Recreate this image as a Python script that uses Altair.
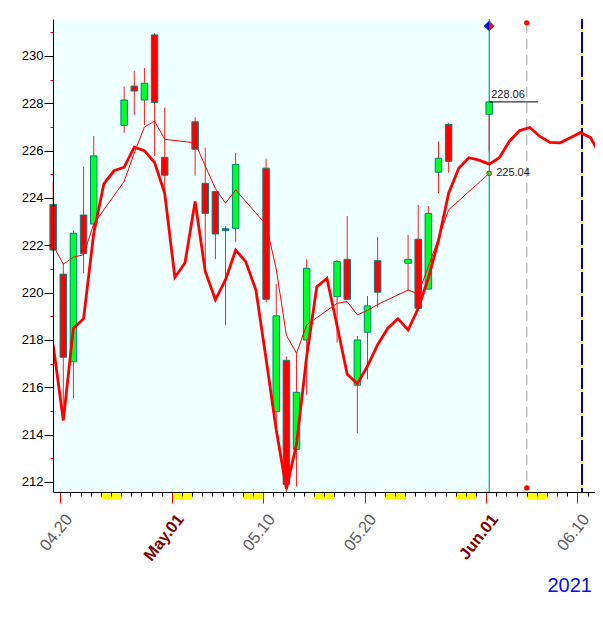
import altair as alt
import pandas as pd

# ---------------- data ----------------
dates = ["2021-04-19", "2021-04-20", "2021-04-21", "2021-04-22", "2021-04-23",
         "2021-04-26", "2021-04-27", "2021-04-28", "2021-04-29", "2021-04-30",
         "2021-05-03", "2021-05-04", "2021-05-05", "2021-05-06", "2021-05-07",
         "2021-05-10", "2021-05-11", "2021-05-12", "2021-05-13", "2021-05-14",
         "2021-05-17", "2021-05-18", "2021-05-19", "2021-05-20", "2021-05-21",
         "2021-05-24", "2021-05-25", "2021-05-26", "2021-05-27", "2021-05-28",
         "2021-06-01"]
opens = [223.73, 220.78, 217.08, 223.28, 222.90,
         227.07, 228.73, 228.14, 230.89, 225.72,
         227.22, 224.62, 224.27, 222.70, 222.72,
         225.26, 214.97, 217.14, 213.38, 218.00,
         219.83, 221.41, 216.09, 218.33, 221.35,
         221.24, 222.26, 220.15, 225.09, 227.11,
         227.54]
highs = [224.65, 221.24, 222.62, 225.32, 226.62,
         228.70, 229.37, 229.49, 230.96, 227.82,
         227.41, 226.13, 224.27, 222.82, 225.90,
         225.65, 220.37, 217.30, 217.44, 221.41,
         221.38, 223.24, 218.17, 219.86, 222.35,
         222.44, 223.71, 223.66, 226.38, 227.18,
         228.06]
lows = [221.70, 215.05, 215.54, 220.82, 222.60,
        226.76, 227.51, 227.08, 225.78, 224.14,
        224.94, 221.05, 221.42, 218.64, 222.15,
        219.59, 214.48, 211.55, 211.81, 215.68,
        217.89, 219.72, 214.06, 216.34, 219.38,
        220.11, 219.34, 220.15, 224.20, 225.07,
        225.96]
closes = [221.80, 217.27, 222.51, 221.66, 225.78,
          228.14, 228.52, 228.85, 228.04, 224.96,
          226.06, 223.35, 222.48, 222.62, 225.42,
          219.72, 219.02, 211.90, 215.79, 221.03,
          221.31, 219.72, 218.00, 219.44, 220.02,
          221.41, 219.34, 223.35, 225.68, 225.55,
          228.06]
# thin average line, one value per trading day
avg_line = [222.0, 221.2, 221.5, 221.6, 222.9,
            224.7, 225.9, 227.0, 227.25, 226.48,
            226.33, 225.35, 224.4, 223.78, 224.34,
            222.87, 221.0, 218.2, 217.44, 218.64,
            219.55, 219.62, 219.06, 219.25, 219.5,
            220.11, 219.95, 221.1, 222.3, 223.5,
            225.04]
# thick forecast-style line, one value per calendar day from 2021-04-19
curve_start = "2021-04-19"
curve = [217.8, 214.6, 218.5, 218.9, 222.5, 224.6, 225.15, 225.3, 226.15, 226.0,
         225.5, 224.2, 220.65, 221.25, 223.85, 220.9, 219.7, 220.55, 221.8, 221.3,
         220.1, 217.2, 214.2, 211.7, 213.6, 217.3, 220.25, 220.6, 218.6, 216.55,
         216.15, 216.9, 217.8, 218.5, 218.9, 218.42, 219.34, 220.6, 222.2, 224.2,
         225.26, 225.7, 225.6, 225.43, 225.7, 226.4, 226.85, 226.98, 226.6, 226.35,
         226.33, 226.55, 226.76, 226.55, 225.75, 225.0]
weekend_starts = ["2021-04-24", "2021-05-01", "2021-05-08", "2021-05-15",
                  "2021-05-22", "2021-05-29", "2021-06-05", "2021-06-12"]
tick_dates = ["2021-04-20", "2021-05-01", "2021-05-10", "2021-05-20", "2021-06-01", "2021-06-10"]
tick_labels = ["04.20", "May.01", "05.10", "05.20", "Jun.01", "06.10"]
month_start_labels = ["May.01", "Jun.01"]
year_label = "2021"

last_close = 228.06
last_avg = 225.04
marker_day = "2021-06-05"       # grey dashed marker line
marker_top, marker_bottom = 231.4, 211.75
today_day = 51.45               # navy line, days after 04.20
close_line_end = 47.1           # end of the close-price guide, days after 04.20
diamond_value = 231.27

# ---------------- helpers ----------------
base = pd.Timestamp("2021-04-20")
def day(s):
    return (pd.Timestamp(s) - base).days

candles = pd.DataFrame({"date": dates, "open": opens, "high": highs,
                        "low": lows, "close": closes, "avg": avg_line})
candles["d"] = [day(s) for s in dates]
candles["lo"] = candles[["open", "close"]].min(axis=1)
candles["hi"] = candles[["open", "close"]].max(axis=1)
candles["dir"] = ["down" if c < o else "up" for o, c in zip(opens, closes)]

c0 = day(curve_start)
curve_df = pd.DataFrame({"d": [c0 + i for i in range(len(curve))], "v": curve})
wk = pd.DataFrame({"d": [day(s) for s in weekend_starts]})
wk["d2"] = wk["d"] + 2

tick_days = [day(s) for s in tick_dates]
month_days = [d for d, l in zip(tick_days, tick_labels) if l in month_start_labels]
label_expr = "".join(f"datum.value == {d} ? '{l}' : " for d, l in zip(tick_days, tick_labels)) + "''"
major_test = " || ".join(f"datum.value == {d}" for d in tick_days)
month_test = " || ".join(f"datum.value == {d}" for d in month_days)

first_d = int(candles["d"].iloc[0])
last_d = int(candles["d"].iloc[-1])
ann = pd.DataFrame({"s": [first_d], "d": [last_d], "close": [last_close], "avg": [last_avg],
                    "dia": [diamond_value], "end": [close_line_end]})
mk = pd.DataFrame({"d": [day(marker_day)], "top": [marker_top], "bot": [marker_bottom]})
nv = pd.DataFrame({"d": [today_day]})

W, H = 542, 473
OFF = 3
FONT = "Liberation Sans"

xs = alt.Scale(domain=[-0.72, 52.73], nice=False, zero=False, padding=0)
ys = alt.Scale(domain=[211.577, 231.563], nice=False, zero=False, padding=0)

xaxis = alt.Axis(
    values=list(range(0, 53)), labelExpr=label_expr, title=None, grid=False,
    labelOverlap=False, labelFlush=False, labelBound=False,
    tickColor={"condition": {"test": major_test, "value": "#ff0000"}, "value": "black"},
    tickSize={"condition": {"test": major_test, "value": 11}, "value": 4},
    labelColor={"condition": {"test": month_test, "value": "#800000"}, "value": "#5f5f5f"},
    labelFontWeight={"condition": {"test": month_test, "value": "bold"}, "value": "normal"},
    labelAngle=-52, labelAlign="right", labelBaseline="top", labelFontSize=16.5,
    labelFont=FONT, labelPadding=8, labelOffset=2,
    domainColor="black", domainWidth=1, zindex=1)
yaxis = alt.Axis(
    values=list(range(212, 232)), labelExpr="datum.value % 2 == 0 ? datum.label : ''",
    title=None, grid=False, labelOverlap=False,
    tickColor={"condition": {"test": "datum.value % 2 == 1", "value": "#ff0000"}, "value": "black"},
    tickSize={"condition": {"test": "datum.value % 2 == 1", "value": 3}, "value": 9},
    labelFontSize=13, labelFont=FONT, labelColor="black", labelPadding=1,
    domainColor="black", domainWidth=1, zindex=1)

def X(f="d"):
    return alt.X(f, type="quantitative", scale=xs, axis=xaxis)
def Y(f):
    return alt.Y(f, type="quantitative", scale=ys, axis=yaxis)

# background (light cyan from first to last trading day)
bg = alt.Chart(ann).mark_rect(color="#f0ffff", x2Offset=OFF, clip=True).encode(
    x=X("s"), x2="d", y=alt.value(0), y2=alt.value(H))

weekend = alt.Chart(wk).mark_rect(color="#ffff00", clip=False).encode(
    x=X("d"), x2="d2", y=alt.value(H), y2=alt.value(H + 7))

teal = alt.Chart(ann).mark_rule(color="#008080", strokeWidth=1, xOffset=OFF).encode(
    x=X("d"), y=alt.value(0), y2=alt.value(H))
navy = alt.Chart(nv).mark_rule(color="#000080", strokeWidth=2).encode(
    x=X("d"), y=alt.value(0), y2=alt.value(H))
navy_y = alt.Chart(nv).mark_rule(color="#ffff00", strokeWidth=2, strokeDash=[3, 21], strokeDashOffset=-10).encode(
    x=X("d"), y=alt.value(0), y2=alt.value(H))
grey = alt.Chart(mk).mark_rule(color="#c0c0c0", strokeWidth=1.5, strokeDash=[10, 6]).encode(
    x=X("d"), y=Y("top"), y2="bot")
grey_top = alt.Chart(mk).mark_point(filled=True, color="#ff0000", size=28, opacity=1).encode(
    x=X("d"), y=Y("top"))
grey_bot = alt.Chart(mk).mark_point(filled=True, color="#ff0000", size=28, opacity=1).encode(
    x=X("d"), y=Y("bot"))

wicks = alt.Chart(candles).mark_rule(color="#ff2020", strokeWidth=1, xOffset=OFF).encode(
    x=X("d"), y=Y("low"), y2="high")
bodies = alt.Chart(candles).mark_bar(size=6.5, stroke="#008080", strokeWidth=1, xOffset=OFF).encode(
    x=X("d"), y=Y("lo"), y2="hi",
    color=alt.Color("dir:N", scale=alt.Scale(domain=["down", "up"], range=["#ff0000", "#00ff22"]), legend=None))

thin = alt.Chart(candles).mark_line(color="#ff0000", strokeWidth=1, xOffset=OFF, clip=True).encode(
    x=X("d"), y=Y("avg"))
thick = alt.Chart(curve_df).mark_line(color="#ff0000", strokeWidth=2.8, xOffset=OFF, clip=True).encode(
    x=X("d"), y=Y("v"))

close_rule = alt.Chart(ann).mark_rule(color="black", strokeWidth=1, xOffset=OFF).encode(
    x=X("d"), x2="end", y=Y("close"))
close_txt = alt.Chart(ann).mark_text(align="left", baseline="bottom", dx=OFF + 2, dy=-2,
                                     fontSize=11, font=FONT, color="#1a1a1a").encode(
    x=X("d"), y=Y("close"), text=alt.Text("close:Q", format=".2f"))
avg_pt = alt.Chart(ann).mark_point(filled=True, fill="#33cc33", stroke="#cc3300", strokeWidth=1,
                                   size=22, opacity=1, xOffset=OFF).encode(x=X("d"), y=Y("avg"))
avg_txt = alt.Chart(ann).mark_text(align="left", baseline="middle", dx=OFF + 7,
                                   fontSize=11, font=FONT, color="#1a1a1a").encode(
    x=X("d"), y=Y("avg"), text=alt.Text("avg:Q", format=".2f"))

dia_l = alt.Chart(ann).mark_point(shape="M0,-1L-1,0L0,1Z", filled=True, color="#0000ff", size=100,
                                  opacity=1, xOffset=OFF).encode(x=X("d"), y=Y("dia"))
dia_r = alt.Chart(ann).mark_point(shape="M0,-1L1,0L0,1Z", filled=True, color="#ff0000", size=100,
                                  opacity=1, xOffset=OFF).encode(x=X("d"), y=Y("dia"))
dia_o = alt.Chart(ann).mark_point(shape="diamond", filled=False, color="#008080", size=100,
                                  strokeWidth=1, opacity=1, xOffset=OFF).encode(x=X("d"), y=Y("dia"))

year = alt.Chart(pd.DataFrame({"t": [year_label]})).mark_text(
    align="right", baseline="alphabetic", fontSize=20, font=FONT, color="#0a0aff").encode(
    x=alt.value(539), y=alt.value(H + 100), text="t:N")

chart = alt.layer(
    bg, weekend, teal, grey, navy, navy_y, wicks, bodies, thin, thick,
    close_rule, close_txt, avg_pt, avg_txt, grey_top, grey_bot, dia_l, dia_r, dia_o, year
).properties(
    width=W, height=H,
    padding={"left": 45, "top": 11, "right": 0, "bottom": 110},
    autosize=alt.AutoSizeParams(type="none"),
    background="white",
).configure_view(strokeWidth=0)

chart.save("out.html", embed_options={"renderer": "svg", "actions": False})
